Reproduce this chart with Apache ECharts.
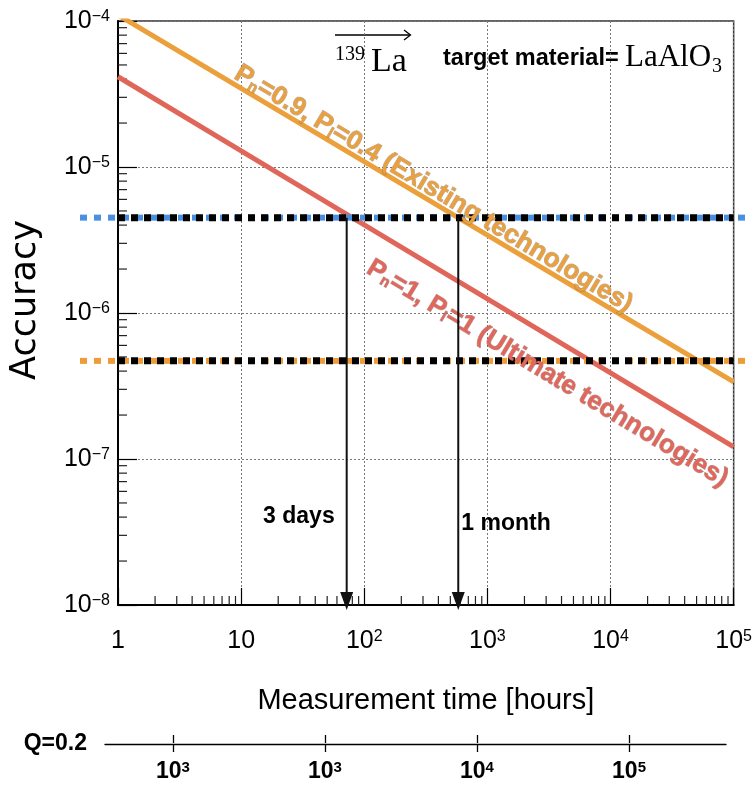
<!DOCTYPE html>
<html>
<head>
<meta charset="utf-8">
<script src="https://cdn.jsdelivr.net/npm/echarts@6/dist/echarts.min.js"></script>
<style>
  html, body { margin: 0; padding: 0; background: #ffffff; }
  #chart { width: 755px; height: 785px; }
</style>
</head>
<body>
<div id="chart"></div>
<script>
// Measurement time (hours) at each decade and the reachable accuracy there
const timeHours = [1, 10, 100, 1000, 10000, 100000];
const accuracyExisting = [1.10e-4, 3.46e-5, 1.09e-5, 3.42e-6, 1.07e-6, 3.38e-7];
const accuracyUltimate = [4.15e-5, 1.29e-5, 4.02e-6, 1.25e-6, 3.89e-7, 1.21e-7];

// Target accuracy levels (dotted horizontal lines)
const targetLevels = [4.5e-6, 4.7e-7];
const targetColors = ['#4a8fe0', '#ee9c3a'];

// Measurement time markers (arrows)
const markerTimes = [72, 580];
const markerLabels = ['3 days', '1 month'];
const markerLabelLevels = [4.0e-8, 3.6e-8];

// Axis ranges, minor tick steps and the secondary Q scale
const xRange = [1, 1e5];
const yRange = [1e-8, 1e-4];
const minorSteps = [2, 3, 4, 5, 6, 7, 8, 9];
const xDecades = [1, 10, 100, 1000, 10000];
const yDecades = [1e-8, 1e-7, 1e-6, 1e-5];
const qTickPositions = [0, 1, 2, 3];
const qTickLabels = [['10', '3'], ['10', '3'], ['10', '4'], ['10', '5']];

const SANS = "'Liberation Sans', Arial, Helvetica, sans-serif";
const SERIF = "'Liberation Serif', 'DejaVu Serif', serif";

const chart = echarts.init(document.getElementById('chart'), null, { renderer: 'canvas' });

function expOf(v) { return Math.round(Math.log10(v)); }

function xLabel(v) {
  const e = expOf(v);
  if (e === 0) return '{b|1}';
  if (e === 1) return '{b|10}';
  return '{b|10}{p|' + e + '}';
}
function yLabel(v) {
  const e = expOf(v);
  return '{b|10}{p|\u2212' + Math.abs(e) + '}';
}

const tickRich = {
  b: { fontFamily: SANS, fontSize: 25, lineHeight: 25, color: '#000' },
  p: { fontFamily: SANS, fontSize: 16, lineHeight: 12, verticalAlign: 'top', color: '#000' }
};

// minor tick positions along both log axes
const xMinor = [];
xDecades.forEach(d => minorSteps.forEach(m => xMinor.push([d * m, yRange[0]])));
const yMinor = [];
yDecades.forEach(d => minorSteps.forEach(m => yMinor.push([xRange[0], d * m])));

function curveData(ys) { return timeHours.map((t, i) => [t, ys[i]]); }

// label placement along each curve: anchor time and perpendicular offset (px)
const curveLabelCfg = [
  { t: 8.2, off: 12, color: '#e9a040', edge: 'rgba(120,85,45,0.5)',
    parts: ['P', 'n', '=0.9, P', 'l', '=0.4 (Existing technologies)'], curve: accuracyExisting },
  { t: 150, off: -33, color: '#e0675c', edge: 'rgba(120,60,55,0.5)',
    parts: ['P', 'n', '=1, P', 'l', '=1 (Ultimate technologies)'], curve: accuracyUltimate }
];

function renderCurveLabel(params, api) {
  const cfg = curveLabelCfg[api.value(2)];
  const ys = cfg.curve;
  const a = api.coord([timeHours[0], ys[0]]);
  const b = api.coord([timeHours[timeHours.length - 1], ys[ys.length - 1]]);
  const ang = Math.atan2(b[1] - a[1], b[0] - a[0]);
  const px = api.coord([cfg.t, yRange[0]])[0];
  const py = a[1] + (px - a[0]) * (b[1] - a[1]) / (b[0] - a[0]);
  const nx = Math.sin(ang), ny = -Math.cos(ang);
  const main = { fontFamily: SANS, fontWeight: 'bold', fontSize: 26, lineHeight: 26, fill: cfg.color,
                 stroke: cfg.edge, lineWidth: 1 };
  const sub = { fontFamily: SANS, fontWeight: 'bold', fontSize: 15, lineHeight: 11, verticalAlign: 'bottom',
                fill: cfg.color, stroke: cfg.edge, lineWidth: 1 };
  const p = cfg.parts;
  return {
    type: 'text',
    x: px + nx * cfg.off,
    y: py + ny * cfg.off,
    rotation: -ang,
    style: {
      text: '{m|' + p[0] + '}{s|' + p[1] + '}{m|' + p[2] + '}{s|' + p[3] + '}{m|' + p[4] + '}',
      rich: { m: main, s: sub },
      fill: cfg.color,
      align: 'left',
      verticalAlign: 'middle'
    }
  };
}

function renderTarget(params, api) {
  const i = api.value(2);
  const v = targetLevels[i];
  const p0 = api.coord([xRange[0], v]);
  const p1 = api.coord([xRange[1], v]);
  return {
    type: 'group',
    children: [
      { type: 'line', shape: { x1: p0[0] - 38, y1: p0[1], x2: p1[0] + 16, y2: p1[1] },
        style: { stroke: targetColors[i], lineWidth: 6, lineDash: [7, 7] } },
      { type: 'line', shape: { x1: p0[0], y1: p0[1], x2: p1[0], y2: p1[1] },
        style: { stroke: '#000', lineWidth: 7, lineDash: [7, 6] } }
    ]
  };
}

function renderMarker(params, api) {
  const i = api.value(2);
  const t = markerTimes[i];
  const top = api.coord([t, targetLevels[0]]);
  const bot = api.coord([t, yRange[0]]);
  const ly = api.coord([t, markerLabelLevels[i]])[1];
  const x = top[0];
  const leftSide = i === 0;
  return {
    type: 'group',
    children: [
      { type: 'line', shape: { x1: x, y1: top[1], x2: x, y2: bot[1] - 10 },
        style: { stroke: '#111', lineWidth: 2 } },
      { type: 'polygon', shape: { points: [[x - 6.5, bot[1] - 13], [x + 6.5, bot[1] - 13], [x, bot[1] + 5]] },
        style: { fill: '#111' } },
      { type: 'text', x: leftSide ? x - 12 : x + 3, y: ly,
        style: { text: markerLabels[i], fontFamily: SANS, fontWeight: 'bold', fontSize: 23,
                 fill: '#000', align: leftSide ? 'right' : 'left', verticalAlign: 'middle' } }
    ]
  };
}

function renderXMinor(params, api) {
  const p = api.coord([api.value(0), api.value(1)]);
  return { type: 'line', shape: { x1: p[0], y1: p[1], x2: p[0], y2: p[1] - 9 },
           style: { stroke: '#222', lineWidth: 1.2 } };
}
function renderYMinor(params, api) {
  const p = api.coord([api.value(0), api.value(1)]);
  return { type: 'line', shape: { x1: p[0], y1: p[1], x2: p[0] + 9, y2: p[1] },
           style: { stroke: '#222', lineWidth: 1.2 } };
}

const option = {
  animation: false,
  backgroundColor: '#ffffff',
  grid: [
    { left: 116, right: 15, top: 21, bottom: 180, show: true, borderColor: '#333', borderWidth: 1.5,
      backgroundColor: 'transparent' },
    { left: 105, right: 29, top: 743, height: 1, show: false }
  ],
  xAxis: [
    {
      type: 'log', gridIndex: 0, logBase: 10, min: xRange[0], max: xRange[1],
      name: 'Measurement time [hours]', nameLocation: 'middle', nameGap: 81,
      nameTextStyle: { fontFamily: SANS, fontSize: 29, color: '#000' },
      axisLine: { lineStyle: { color: '#000', width: 2 } },
      axisTick: { inside: true, length: 17, lineStyle: { color: '#000', width: 1.2 } },
      axisLabel: { margin: 24, formatter: xLabel, rich: tickRich, showMinLabel: true, showMaxLabel: true },
      splitLine: { show: true, lineStyle: { color: '#777', width: 1, type: [2, 2] } }
    },
    {
      type: 'value', gridIndex: 1, position: 'bottom', min: -0.447, max: 3.638,
      name: 'Q=0.2', nameLocation: 'start', nameGap: 18,
      nameTextStyle: { fontFamily: SANS, fontWeight: 'bold', fontSize: 23, color: '#000',
                       verticalAlign: 'middle' },
      axisLine: { lineStyle: { color: '#000', width: 1.3 } },
      axisTick: { customValues: qTickPositions, length: 8, lineStyle: { color: '#000', width: 1.3 } },
      axisLabel: {
        customValues: qTickPositions, margin: 16,
        formatter: v => { const l = qTickLabels[Math.round(v)]; return '{b|' + l[0] + '}{p|' + l[1] + '}'; },
        rich: {
          b: { fontFamily: SANS, fontWeight: 'bold', fontSize: 23, lineHeight: 23, color: '#000' },
          p: { fontFamily: SANS, fontWeight: 'bold', fontSize: 15, lineHeight: 11, verticalAlign: 'top', color: '#000' }
        }
      },
      splitLine: { show: false }
    },
    {
      type: 'value', gridIndex: 1, position: 'top', min: -0.447, max: 3.638,
      axisLine: { show: false },
      axisTick: { customValues: qTickPositions, length: 8, lineStyle: { color: '#000', width: 1.3 } },
      axisLabel: { show: false },
      splitLine: { show: false }
    }
  ],
  yAxis: [
    {
      type: 'log', gridIndex: 0, logBase: 10, min: yRange[0], max: yRange[1],
      name: 'Accuracy', nameLocation: 'middle', nameGap: 75,
      nameTextStyle: { fontFamily: "'DejaVu Sans', sans-serif", fontSize: 35, color: '#000',
                       padding: [0, 0, 0, 26] },
      axisLine: { lineStyle: { color: '#000', width: 2 } },
      axisTick: { inside: true, length: 19, lineStyle: { color: '#000', width: 1.2 } },
      axisLabel: { margin: 8, formatter: yLabel, rich: tickRich, showMinLabel: true, showMaxLabel: true },
      splitLine: { show: true, lineStyle: { color: '#777', width: 1, type: [2, 2] } }
    },
    { type: 'value', gridIndex: 1, show: false, min: 0, max: 1 }
  ],
  series: [
    { type: 'custom', name: 'x minor ticks', xAxisIndex: 0, yAxisIndex: 0, silent: true, clip: false, z: 1,
      data: xMinor, renderItem: renderXMinor },
    { type: 'custom', name: 'y minor ticks', xAxisIndex: 0, yAxisIndex: 0, silent: true, clip: false, z: 1,
      data: yMinor, renderItem: renderYMinor },
    { type: 'line', name: 'Existing technologies', xAxisIndex: 0, yAxisIndex: 0, data: curveData(accuracyExisting),
      showSymbol: false, clip: true, z: 2, lineStyle: { color: '#eba03c', width: 5 } },
    { type: 'line', name: 'Ultimate technologies', xAxisIndex: 0, yAxisIndex: 0, data: curveData(accuracyUltimate),
      showSymbol: false, clip: true, z: 2, lineStyle: { color: '#e0665a', width: 5 } },
    { type: 'custom', name: 'target levels', xAxisIndex: 0, yAxisIndex: 0, silent: true, clip: false, z: 3,
      data: targetLevels.map((v, i) => [xRange[0], v, i]), encode: { x: 0, y: 1 }, renderItem: renderTarget },
    { type: 'custom', name: 'curve labels', xAxisIndex: 0, yAxisIndex: 0, silent: true, clip: false, z: 4,
      data: curveLabelCfg.map((c, i) => [c.t, 1e-6, i]), encode: { x: 0, y: 1 }, renderItem: renderCurveLabel },
    { type: 'custom', name: 'time markers', xAxisIndex: 0, yAxisIndex: 0, silent: true, clip: false, z: 5,
      data: markerTimes.map((t, i) => [t, targetLevels[0], i]), encode: { x: 0, y: 1 }, renderItem: renderMarker }
  ],
  graphic: [
    { type: 'line', shape: { x1: 335, y1: 35, x2: 410, y2: 35 }, style: { stroke: '#000', lineWidth: 1.3 } },
    { type: 'polyline', shape: { points: [[404, 30], [410.5, 35], [404, 40]] },
      style: { stroke: '#000', lineWidth: 1.3, fill: null } },
    { type: 'text', x: 335, y: 55, style: { text: '139', fontFamily: SERIF, fontSize: 20, fill: '#000',
      verticalAlign: 'middle' } },
    { type: 'text', x: 371, y: 62, style: { text: 'La', fontFamily: SERIF, fontSize: 34, fill: '#000',
      verticalAlign: 'middle' } },
    { type: 'text', x: 443, y: 59, style: { text: 'target material=', fontFamily: SANS, fontWeight: 'bold',
      fontSize: 23.5, fill: '#000', verticalAlign: 'middle' } },
    { type: 'text', x: 625, y: 58, style: { text: 'LaAlO', fontFamily: SERIF, fontSize: 31, fill: '#000',
      verticalAlign: 'middle' } },
    { type: 'text', x: 712, y: 67, style: { text: '3', fontFamily: SERIF, fontSize: 20, fill: '#000',
      verticalAlign: 'middle' } }
  ]
};

chart.setOption(option);
</script>
</body>
</html>
